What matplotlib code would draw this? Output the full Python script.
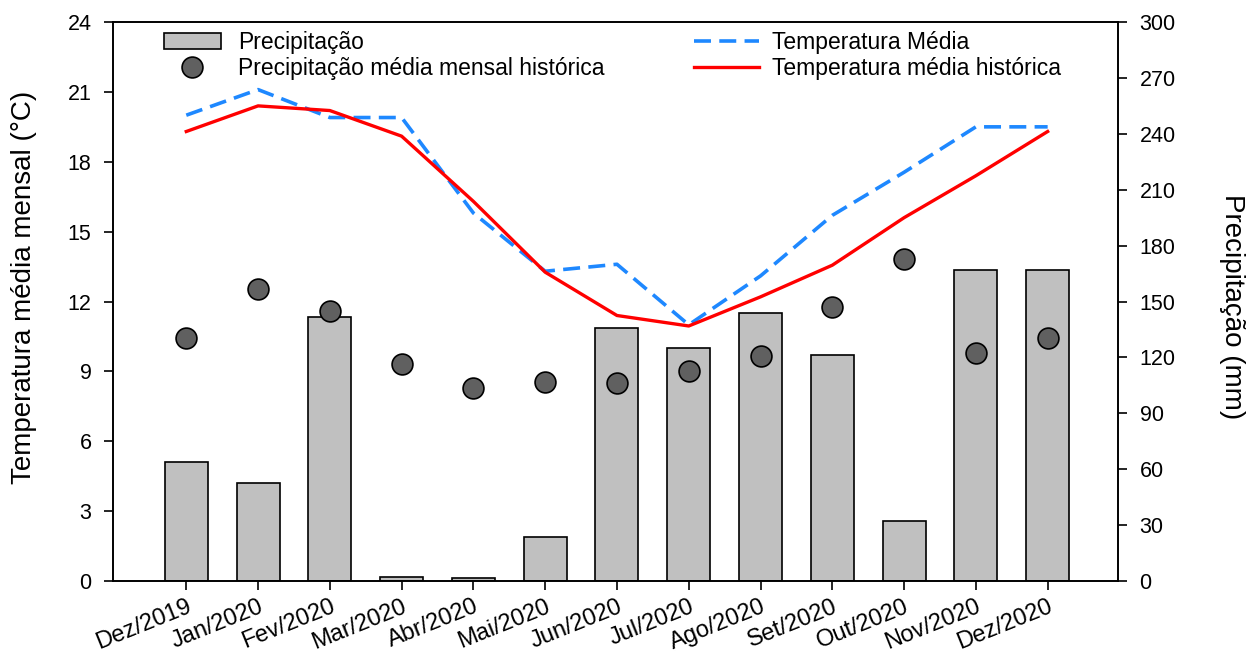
import matplotlib
matplotlib.use("Agg")
import matplotlib.pyplot as plt
import numpy as np

plt.rcParams['font.family'] = ['Liberation Sans', 'DejaVu Sans']

# data
meses = ['Dez/2019', 'Jan/2020', 'Fev/2020', 'Mar/2020', 'Abr/2020', 'Mai/2020',
         'Jun/2020', 'Jul/2020', 'Ago/2020', 'Set/2020', 'Out/2020', 'Nov/2020', 'Dez/2020']
precip = [64, 52.6, 141.7, 2, 1.6, 23.6, 135.8, 125, 143.9, 121.3, 32.2, 167, 167]
precip_hist = [130.4, 156.7, 144.9, 116.5, 103.6, 106.8, 106.3, 112.7, 120.8, 147, 172.8, 122.4, 130.4]
temp_media = [20.0, 21.1, 19.9, 19.9, 15.8, 13.3, 13.6, 11.0, 13.1, 15.7, 17.55, 19.5, 19.5]
temp_hist = [19.3, 20.4, 20.2, 19.1, 16.3, 13.26, 11.4, 10.95, 12.2, 13.56, 15.6, 17.4, 19.3]

x = np.arange(len(meses))

fig = plt.figure(figsize=(12.59, 6.54), dpi=100)
ax = fig.add_axes([0.0898, 0.1116, 0.7982, 0.8547])
ax2 = ax.twinx()

# precipitation on the right axis
b = ax2.bar(x, precip, width=0.6, color='#c0c0c0', edgecolor='black', linewidth=1.2,
            label='Precipitação', zorder=2)
d, = ax2.plot(x, precip_hist, 'o', color='#606060', markeredgecolor='black',
              markeredgewidth=1.2, markersize=15, label='Precipitação média mensal histórica', zorder=3)
ax2.set_ylim(0, 300)
ax2.set_yticks(np.arange(0, 301, 30))
ax2.set_ylabel('Precipitação (mm)', fontsize=20, rotation=270)
ax2.yaxis.set_label_coords(1.1264, 0.49)

# temperature on the left axis, drawn on top
ax.set_zorder(ax2.get_zorder() + 1)
ax.patch.set_visible(False)
l1, = ax.plot(x, temp_media, color='#1e88ff', linewidth=2.6, dashes=(4.7, 2.3), label='Temperatura Média')
l2, = ax.plot(x, temp_hist, color='#ff0000', linewidth=2.4, label='Temperatura média histórica')
ax.set_ylim(0, 24)
ax.set_yticks(np.arange(0, 25, 3))
ax.set_xlim(-1.02, 12.98)
ax.set_xticks(x)
ax.set_xticklabels(meses, rotation=22, ha='right', rotation_mode='anchor')
ax.set_ylabel('Temperatura média mensal (°C)', fontsize=20)
ax.yaxis.set_label_coords(-0.0756, 0.526)

for a in (ax, ax2):
    a.tick_params(axis='y', labelsize=15.5, direction='out', length=6.5, width=1.2, pad=9)
    a.tick_params(axis='x', labelsize=17, direction='out', length=6.5, width=1.2, pad=4)
    for s in a.spines.values():
        s.set_linewidth(1.2)

leg1 = ax.legend([b, d], ['Precipitação', 'Precipitação média mensal histórica'],
                 loc='upper left', bbox_to_anchor=(0.03, 1.02), frameon=False,
                 fontsize=16.5, handlelength=2.5, labelspacing=0.12, handletextpad=0.75)
ax.add_artist(leg1)
ax.legend([l1, l2], ['Temperatura Média', 'Temperatura média histórica'],
          loc='upper left', bbox_to_anchor=(0.558, 1.02), frameon=False,
          fontsize=16.5, handlelength=2.8, labelspacing=0.12, handletextpad=0.6)

fig.savefig('out.png', dpi=100)
